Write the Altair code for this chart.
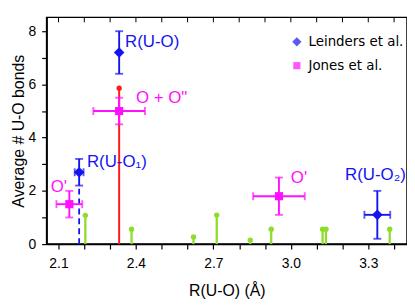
import altair as alt
import pandas as pd

SER = ["Leinders et al.", "Jones et al."]
BLUE = "#1414f0"
MAG = "#ff10ff"
RED = "#ff1a1a"
GREEN = "#8fdc2c"
DIAMOND = "M-1.3,0L0,-1.3L1.3,0L0,1.3Z"

# Leinders et al. (blue diamonds)
l_x = [2.335, 2.18, 3.335]
l_y = [7.2, 2.7, 1.1]
l_xe = [0.0, 0.017, 0.05]
l_ye = [0.8, 0.5, 0.9]
# Jones et al. (magenta squares)
j_x = [2.335, 2.142, 2.954]
j_y = [5.0, 1.5, 1.8]
j_xe = [0.1, 0.05, 0.1]
j_ye = [0.5, 0.5, 0.7]

# green stems
stem_x = [2.204, 2.383, 2.623, 2.713, 2.843, 2.924, 3.123, 3.136, 3.383]
stem_h = [1.08, 0.56, 0.27, 1.09, 0.15, 0.56, 0.56, 0.56, 0.56]
# red stem
red_x = [2.335]
red_h = [5.86]
# blue dashed line
dash_x = [2.18]
dash_h = [2.2]

# annotation labels
lab_text = ["R(U-O)", "O + O\"", "R(U-O\u2081)", "O'", "O'", "R(U-O\u2082)"]
lab_x = [2.358, 2.40, 2.21, 2.07, 3.0, 3.21]
lab_y = [7.58, 5.5, 3.09, 2.16, 2.49, 2.6]
lab_ser = ["Leinders et al.", "Jones et al.", "Leinders et al.", "Jones et al.", "Jones et al.", "Leinders et al."]

x_ticks = [round(2.1 + 0.1 * i, 1) for i in range(14)]
x_labels = ["2.1", "2.4", "2.7", "3.0", "3.3"]
y_ticks = list(range(0, 9))
y_labels = ["0", "2", "4", "6", "8"]

pts = pd.DataFrame({
    "x": l_x + j_x, "y": l_y + j_y, "xe": l_xe + j_xe, "ye": l_ye + j_ye,
    "series": [SER[0]] * 3 + [SER[1]] * 3,
})
pts["xlo"] = pts.x - pts.xe
pts["xhi"] = pts.x + pts.xe
pts["ylo"] = pts.y - pts.ye
pts["yhi"] = pts.y + pts.ye

X = alt.Scale(domain=[2.054, 3.45], nice=False, zero=False)
Y = alt.Scale(domain=[0, 8.52], nice=False)
COL = alt.Scale(domain=SER, range=[BLUE, MAG])

xaxis = alt.Axis(values=x_ticks, format=".1f", title="R(U-O) (Å)", grid=False, labelOverlap=False,
                 labelExpr="indexof(" + str(x_labels) + ", datum.label) >= 0 ? datum.label : ''")
yaxis = alt.Axis(values=y_ticks, title="Average # U-O bonds", grid=False, labelOverlap=False,
                 labelExpr="indexof(" + str(y_labels) + ", datum.label) >= 0 ? datum.label : ''")

LEG = alt.Legend(orient="none", legendX=246, legendY=18, labelFont="DejaVu Sans",
                 labelFontSize=13.5, labelColor="black", symbolSize=52,
                 rowPadding=9, symbolStrokeWidth=0, labelOffset=5, title=None)

stems = pd.DataFrame({"x": stem_x, "h": stem_h})
XA = lambda f: alt.X(f, scale=X, axis=xaxis)
YA = lambda f: alt.Y(f, scale=Y, axis=yaxis)

green_rule = alt.Chart(stems).mark_rule(color=GREEN, strokeWidth=2.3).encode(
    x=XA("x:Q"), y=YA("zero:Q"), y2="h:Q").transform_calculate(zero="0")
green_dot = alt.Chart(stems).mark_circle(color=GREEN, size=30, opacity=1).encode(
    x=XA("x:Q"), y=YA("h:Q"))

red = pd.DataFrame({"x": red_x, "h": red_h})
red_rule = alt.Chart(red).mark_rule(color=RED, strokeWidth=2).encode(
    x=XA("x:Q"), y=YA("zero:Q"), y2="h:Q").transform_calculate(zero="0")
red_dot = alt.Chart(red).mark_circle(color=RED, size=28, opacity=1).encode(
    x=XA("x:Q"), y=YA("h:Q"))

dsh = pd.DataFrame({"x": dash_x, "h": dash_h})
dash_rule = alt.Chart(dsh).mark_rule(color=BLUE, strokeWidth=1.8, strokeDash=[6, 4]).encode(
    x=XA("x:Q"), y=YA("zero:Q"), y2="h:Q").transform_calculate(zero="0")

base = alt.Chart(pts)
col = alt.Color("series:N", scale=COL, legend=LEG, title=None)
shp = alt.Shape("series:N", scale=alt.Scale(domain=SER, range=[DIAMOND, "square"]), legend=LEG, title=None)
v_err = base.mark_rule(strokeWidth=1.9).encode(x=XA("x:Q"), y=YA("ylo:Q"), y2="yhi:Q", color=col)
h_err = base.transform_filter("datum.xe > 0").mark_rule(strokeWidth=1.9).encode(
    x=XA("xlo:Q"), x2="xhi:Q", y=YA("y:Q"), color=col)
cap_lo = base.mark_tick(orient="horizontal", size=8, thickness=1.9).encode(
    x=XA("x:Q"), y=YA("ylo:Q"), color=col)
cap_hi = base.mark_tick(orient="horizontal", size=8, thickness=1.9).encode(
    x=XA("x:Q"), y=YA("yhi:Q"), color=col)
capx_lo = base.transform_filter("datum.xe > 0").mark_tick(orient="vertical", size=8, thickness=1.9).encode(
    x=XA("xlo:Q"), y=YA("y:Q"), color=col)
capx_hi = base.transform_filter("datum.xe > 0").mark_tick(orient="vertical", size=8, thickness=1.9).encode(
    x=XA("xhi:Q"), y=YA("y:Q"), color=col)

points = base.mark_point(filled=True, opacity=1, size=68).encode(
    x=XA("x:Q"), y=YA("y:Q"), color=col, shape=shp)

labs = pd.DataFrame({"t": lab_text, "x": lab_x, "y": lab_y, "series": lab_ser})
labels = alt.Chart(labs).mark_text(align="left", baseline="middle", font="Liberation Sans", fontSize=17).encode(
    x=XA("x:Q"), y=YA("y:Q"), text="t:N", color=col)

topt = pd.DataFrame({"x": x_ticks})
top_ticks = alt.Chart(topt).mark_rule(color="black", strokeWidth=1).encode(
    x=XA("x:Q"), y=alt.value(0), y2=alt.value(5))

chart = alt.layer(
    green_rule, green_dot, red_rule, red_dot, dash_rule,
    v_err, h_err, cap_lo, cap_hi, capx_lo, capx_hi, points, labels, top_ticks
).properties(
    width=364, height=229,
    autosize=alt.AutoSizeParams(type="none"),
    padding={"left": 39, "top": 8, "right": 0, "bottom": 55},
).configure_view(stroke="black", strokeWidth=1.5).configure_axis(
    labelFont="Liberation Sans", titleFont="Liberation Sans", labelFontSize=14, titleFontSize=16,
    titleFontWeight="normal", labelColor="black", titleColor="black", domainColor="black",
    tickColor="black", domainWidth=1.5, tickWidth=1.2, tickSize=5, labelOverlap=False,
).configure_axisX(titlePadding=12, labelPadding=8).configure_axisY(titlePadding=2, labelPadding=6)

chart.save("out.html", embed_options={"renderer": "svg", "actions": False})
